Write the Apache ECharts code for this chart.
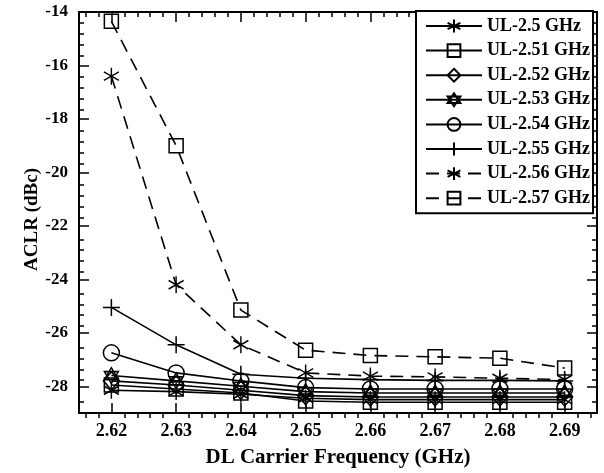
<!DOCTYPE html>
<html><head><meta charset="utf-8">
<script src="https://cdn.jsdelivr.net/npm/echarts@6/dist/echarts.min.js"></script>
<style>html,body{margin:0;padding:0;background:#fff}#c{width:604px;height:473px}</style>
</head><body><div id="c"></div>
<script>
const categories = [2.62, 2.63, 2.64, 2.65, 2.66, 2.67, 2.68, 2.69];
const seriesNames = ['UL-2.5 GHz','UL-2.51 GHz','UL-2.52 GHz','UL-2.53 GHz','UL-2.54 GHz','UL-2.55 GHz','UL-2.56 GHz','UL-2.57 GHz'];
const ul2500 = [-28.15, -28.2, -28.3, -28.45, -28.5, -28.5, -28.5, -28.5];
const ul2510 = [-27.95, -28.1, -28.25, -28.55, -28.6, -28.6, -28.6, -28.6];
const ul2520 = [-27.8, -27.95, -28.15, -28.35, -28.4, -28.4, -28.4, -28.4];
const ul2530 = [-27.6, -27.8, -28.0, -28.2, -28.25, -28.25, -28.25, -28.25];
const ul2540 = [-26.75, -27.5, -27.8, -28.05, -28.1, -28.1, -28.1, -28.1];
const ul2550 = [-25.05, -26.45, -27.55, -27.7, -27.75, -27.78, -27.78, -27.8];
const ul2560 = [-16.4, -24.2, -26.45, -27.5, -27.62, -27.65, -27.7, -27.75];
const ul2570 = [-14.35, -19.0, -25.15, -26.65, -26.85, -26.9, -26.95, -27.32];
const xMajorTicks = [2.62, 2.63, 2.64, 2.65, 2.66, 2.67, 2.68, 2.69];
const xMinorTicks = [2.616,2.618,2.622,2.624,2.626,2.628,2.632,2.634,2.636,2.638,2.642,2.644,2.646,2.648,2.652,2.654,2.656,2.658,2.662,2.664,2.666,2.668,2.672,2.674,2.676,2.678,2.682,2.684,2.686,2.688,2.692,2.694];
const yMajorTicks = [-28, -26, -24, -22, -20, -18, -16, -14];
const yMinorTicks = [-28.8,-28.4,-27.6,-27.2,-26.8,-26.4,-25.6,-25.2,-24.8,-24.4,-23.6,-23.2,-22.8,-22.4,-21.6,-21.2,-20.8,-20.4,-19.6,-19.2,-18.8,-18.4,-17.6,-17.2,-16.8,-16.4,-15.6,-15.2,-14.8,-14.4];

const XMIN = 2.615, XMAX = 2.695, YMIN = -29, YMAX = -14;
const FONT = 'Liberation Serif';

const SYM = {
  asterisk: 'path://M0,-1L0,1M-0.866,-0.5L0.866,0.5M-0.866,0.5L0.866,-0.5',
  rect: 'path://M0,0L1,0L1,1L0,1Z',
  diamond: 'path://M0,-1L1,0L0,1L-1,0Z',
  hexagram: 'path://M0,-1L0.866,0.5L-0.866,0.5ZM0,1L0.866,-0.5L-0.866,-0.5Z',
  circle: 'circle',
  plus: 'path://M0,-1L0,1M-1,0L1,0'
};
const seriesData = [ul2500, ul2510, ul2520, ul2530, ul2540, ul2550, ul2560, ul2570];
const symbols = ['asterisk','rect','diamond','hexagram','circle','plus','asterisk','rect'];
const symSizes = {asterisk:[15,17], rect:[14,14], diamond:[16,18], hexagram:[14,16], circle:[16,16], plus:[17,17]};
const dashed = [false,false,false,false,false,false,true,true];

const grid = [
  {left:79, right:7, top:12, bottom:55},
  {left:79, right:7, top:12, bottom:55}
];
function xAx(gi, pos, ticks, len, major){
  return {
    type:'value', gridIndex:gi, position:pos, min:XMIN, max:XMAX,
    axisLine:{show:major, onZero:false, lineStyle:{color:'#000', width:2}},
    axisTick:{show:true, inside:true, length:len, customValues:ticks, lineStyle:{color:'#000', width:1.5}},
    axisLabel:{show:major && pos==='bottom', customValues:ticks, margin:9,
      formatter:v=>Number(v).toFixed(2), color:'#000', fontFamily:FONT, fontWeight:'bold', fontSize:18},
    splitLine:{show:false},
    name:(major && pos==='bottom' && gi===0)?'DL Carrier Frequency (GHz)':'',
    nameLocation:'middle', nameGap:34, nameMoveOverlap:false,
    nameTextStyle:{color:'#000', fontFamily:FONT, fontWeight:'bold', fontSize:21}
  };
}
function yAx(gi, pos, ticks, len, major){
  return {
    type:'value', gridIndex:gi, position:pos, min:YMIN, max:YMAX,
    axisLine:{show:major, onZero:false, lineStyle:{color:'#000', width:2}},
    axisTick:{show:true, inside:true, length:len, customValues:ticks, lineStyle:{color:'#000', width:1.5}},
    axisLabel:{show:major && pos==='left', customValues:ticks, margin:11,
      formatter:v=>String(Math.round(v)), color:'#000', fontFamily:FONT, fontWeight:'bold', fontSize:17},
    splitLine:{show:false},
    name:(major && pos==='left' && gi===0)?'ACLR (dBc)':'',
    nameLocation:'middle', nameGap:37, nameRotate:90, nameMoveOverlap:false,
    nameTextStyle:{color:'#000', fontFamily:FONT, fontWeight:'bold', fontSize:19, padding:[0,14,0,0]}
  };
}

const series = seriesData.map((d, i) => ({
  name: seriesNames[i], type:'line', xAxisIndex:0, yAxisIndex:0,
  data: categories.map((x, k) => [x, d[k]]),
  symbol: SYM[symbols[i]], symbolSize: symSizes[symbols[i]],
  showAllSymbol:true, clip:false,
  lineStyle:{color:'#000', width:1.6, type: dashed[i] ? [13,8] : 'solid'},
  itemStyle:{color:'rgba(0,0,0,0)', borderColor:'#000', borderWidth:1.5},
  emphasis:{disabled:true}, animation:false
}));

const chart = echarts.init(document.getElementById('c'), null, {renderer:'canvas'});
chart.setOption({
  backgroundColor:'#fff',
  animation:false,
  grid: grid,
  xAxis:[
    xAx(0,'bottom',xMajorTicks,10,true), xAx(0,'top',xMajorTicks,10,true),
    xAx(1,'bottom',xMinorTicks,5,false), xAx(1,'top',xMinorTicks,5,false)
  ],
  yAxis:[
    yAx(0,'left',yMajorTicks,10,true), yAx(0,'right',yMajorTicks,10,true),
    yAx(1,'left',yMinorTicks,5,false), yAx(1,'right',yMinorTicks,5,false)
  ],
  legend:{
    orient:'vertical', left:416, top:11,
    data: seriesNames,
    itemWidth:56, itemHeight:16, itemGap:6.6,
    padding:[6,3,6,9],
    borderColor:'#000', borderWidth:2, backgroundColor:'#fff',
    textStyle:{color:'#000', fontFamily:FONT, fontWeight:'bold', fontSize:18},
    selectedMode:false
  },
  series: series
});
</script></body></html>
